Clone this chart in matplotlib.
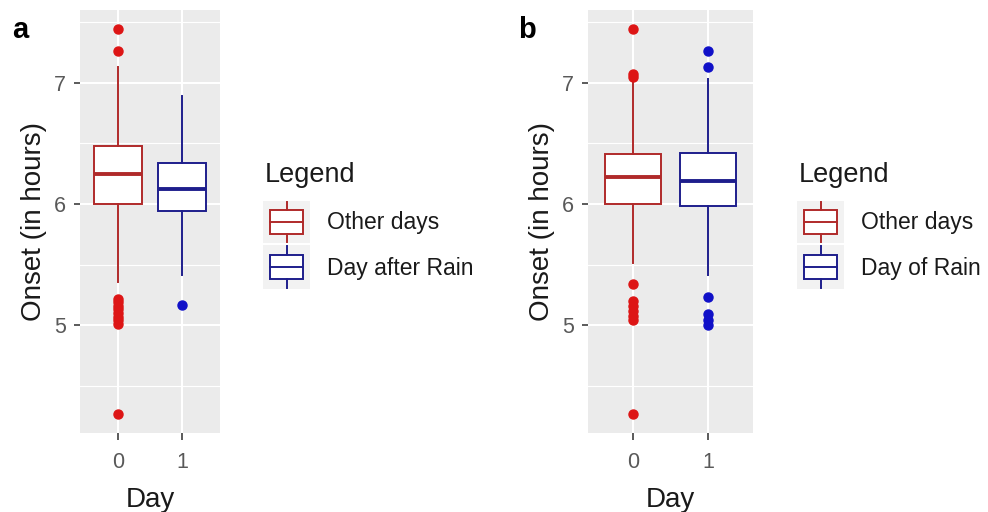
import matplotlib
matplotlib.use("Agg")
import matplotlib.pyplot as plt
from matplotlib.patches import Rectangle

plt.rcParams['font.family'] = ['Liberation Sans', 'DejaVu Sans']

# box statistics (hours)
days = [0, 1]

a_q1 = [6.00, 5.94]
a_med = [6.25, 6.12]
a_q3 = [6.475, 6.34]
a_lo = [5.36, 5.41]
a_hi = [7.13, 6.89]
a_out = [[7.44, 7.26, 5.22, 5.19, 5.16, 5.13, 5.10, 5.07, 5.04, 5.01, 4.27],
         [5.17]]
a_labels = ["Other days", "Day after Rain"]

b_q1 = [6.00, 5.98]
b_med = [6.22, 6.19]
b_q3 = [6.41, 6.42]
b_lo = [5.51, 5.41]
b_hi = [7.02, 7.03]
b_out = [[7.44, 7.07, 7.05, 5.34, 5.20, 5.16, 5.12, 5.08, 5.04, 4.27],
         [7.26, 7.13, 5.23, 5.09, 5.04, 5.00]]
b_labels = ["Other days", "Day of Rain"]

edge_cols = ['#B02A2A', '#1E1E8C']
pt_cols = ['#DD1515', '#1010C8']

W, H = 988, 512
fig = plt.figure(figsize=(W / 100, H / 100), dpi=100)


def px_axes(x0, y0, x1, y1):
    # pixel box (top-left origin) -> figure axes
    return fig.add_axes([x0 / W, 1 - y1 / H, (x1 - x0) / W, (y1 - y0) / H])


def draw_panel(ax, q1, med, q3, lo, hi, out, ylim):
    for i in range(len(days)):
        st = dict(med=med[i], q1=q1[i], q3=q3[i], whislo=lo[i],
                  whishi=hi[i], fliers=out[i])
        c = edge_cols[i]
        ax.bxp([st], positions=[days[i]], widths=0.75, patch_artist=True,
               showcaps=False, manage_ticks=False,
               boxprops=dict(facecolor='white', edgecolor=c, linewidth=1.4),
               medianprops=dict(color=c, linewidth=2.8),
               whiskerprops=dict(color=c, linewidth=1.4),
               flierprops=dict(marker='o', markerfacecolor=pt_cols[i],
                               markeredgecolor=pt_cols[i], markersize=6.5),
               zorder=3)
    ax.set_facecolor('#EBEBEB')
    ax.set_xlim(-0.6, 1.6)
    ax.set_ylim(*ylim)
    ax.set_yticks([5, 6, 7])
    ax.set_yticks([4.5, 5.5, 6.5, 7.5], minor=True)
    ax.set_xticks(days)
    ax.set_xticklabels([str(d) for d in days])
    ax.grid(True, which='major', color='white', linewidth=1.5, zorder=0)
    ax.grid(True, which='minor', axis='y', color='white', linewidth=0.8, zorder=0)
    ax.set_axisbelow(True)
    for s in ax.spines.values():
        s.set_visible(False)
    ax.tick_params(which='major', colors='#4D4D4D', labelsize=15.5, width=1.3)
    ax.tick_params(which='major', labelcolor='#595959')
    ax.tick_params(axis='y', length=4, pad=6)
    ax.tick_params(axis='x', length=5, pad=9)
    ax.tick_params(which='minor', length=0)
    ax.set_xlabel("Day", fontsize=20, color='#1A1A1A', labelpad=10)
    ax.set_ylabel("Onset (in hours)", fontsize=20, color='#1A1A1A', labelpad=5)


def legend_key(x0, y0, x1, y1, c):
    k = px_axes(x0, y0, x1, y1)
    k.set_xlim(0, 1)
    k.set_ylim(0, 1)
    k.axis('off')
    k.add_patch(Rectangle((0, 0), 1, 1, facecolor='#F2F2F2', edgecolor='none'))
    k.add_patch(Rectangle((0.14, 0.22), 0.72, 0.56, facecolor='white',
                          edgecolor=c, linewidth=1.4))
    k.plot([0.14, 0.86], [0.5, 0.5], color=c, lw=1.4)
    k.plot([0.5, 0.5], [0.78, 0.98], color=c, lw=1.4)
    k.plot([0.5, 0.5], [0.02, 0.22], color=c, lw=1.4)


def draw_legend(x_key, labels):
    fig.text((x_key + 2) / W, 1 - 175 / H, "Legend", fontsize=19.5,
             color='#1A1A1A', va='center', ha='left')
    legend_key(x_key, 201, x_key + 47, 243, edge_cols[0])
    legend_key(x_key, 245, x_key + 47, 289, edge_cols[1])
    fig.text((x_key + 64) / W, 1 - 223 / H, labels[0], fontsize=16.5,
             color='#1A1A1A', va='center', ha='left')
    fig.text((x_key + 64) / W, 1 - 269 / H, labels[1], fontsize=16.5,
             color='#1A1A1A', va='center', ha='left')


all_vals = [v for o in a_out + b_out for v in o] + a_lo + a_hi + b_lo + b_hi
lo_v, hi_v = min(all_vals), max(all_vals)
pad = 0.05 * (hi_v - lo_v)
ylim = (lo_v - pad, hi_v + pad)

ax_a = px_axes(80, 10, 220, 433)
draw_panel(ax_a, a_q1, a_med, a_q3, a_lo, a_hi, a_out, ylim)
ax_b = px_axes(588, 10, 753, 433)
draw_panel(ax_b, b_q1, b_med, b_q3, b_lo, b_hi, b_out, ylim)

draw_legend(263, a_labels)
draw_legend(797, b_labels)

fig.text(12 / W, 1 - 30 / H, "a", fontsize=21, fontweight='bold', va='center')
fig.text(518 / W, 1 - 30 / H, "b", fontsize=21, fontweight='bold', va='center')

fig.savefig("out.png", dpi=100)
